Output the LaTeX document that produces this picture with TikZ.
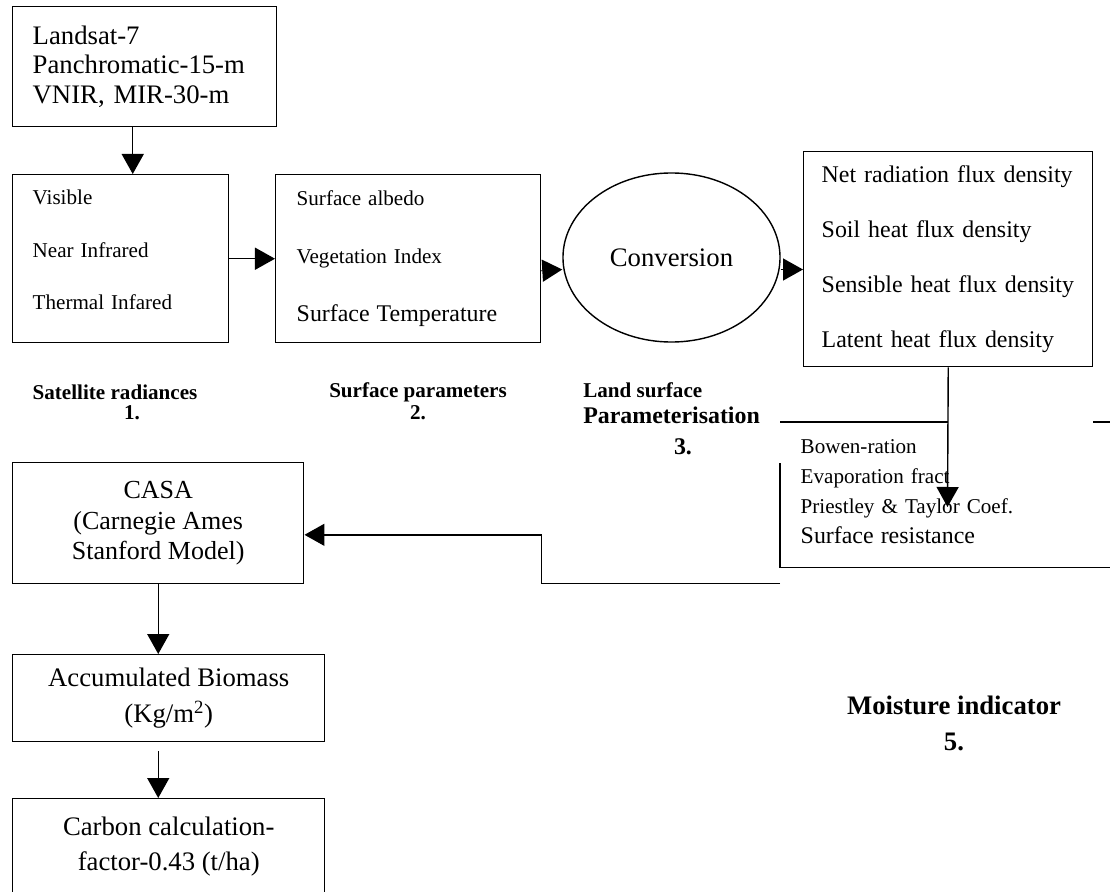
\documentclass[tikz,border=0pt]{standalone}
\usepackage{fontspec}
\setmainfont{Liberation Serif}
\usepackage{tikz}
\usetikzlibrary{shapes,arrows.meta}
\tikzstyle{arrow} = [line width=1pt,-{Triangle[length=0.5cm,width=0.55cm]}]
\tikzstyle{block} = [
    rectangle, draw=black, line width=1pt, anchor=north west, inner ysep=0pt]
\tikzstyle{listbox} = [block, align=left, inner xsep=0.5cm]
\tikzstyle{textbox} = [block, align=center]
\tikzstyle{caption} = [font=\fontsize{15}{18}\selectfont\bfseries, inner sep=0pt]
\tikzstyle{bigcaption} = [font=\fontsize{19}{22}\selectfont\bfseries, inner sep=0pt]

\begin{document}
\begin{tikzpicture}[x=0.025cm, y=-0.025cm]
\clip (0,0) rectangle (1110,892);

\node (landsat) [listbox, minimum width=6.6cm, minimum height=3cm, text width=5.6cm,
    font=\fontsize{19}{21}\selectfont] at (12,6) {
    Landsat-7\\
    Panchromatic-15-m\\
    VNIR, MIR-30-m
};

\node (radiances) [listbox, minimum width=5.4cm, minimum height=4.2cm, text width=4.4cm,
    text depth=3.07cm, font=\fontsize{15}{37.3}\selectfont] at (12,174) {
    Visible\\
    Near Infrared\\
    Thermal Infared
};

\node (params) [listbox, inner xsep=0.525cm, minimum width=6.625cm, minimum height=4.2cm,
    text width=5.575cm, font=\fontsize{15}{41}\selectfont] at (275,174) {
    Surface albedo\\
    Vegetation Index\\
    {\fontsize{17}{41}\selectfont Surface Temperature}
};

\node (conv) [ellipse, draw=black, line width=1pt, minimum width=5.425cm, minimum height=4.225cm,
    inner sep=0pt, font=\fontsize{19}{21}\selectfont] at (671.5,257.5) {Conversion};

\node (fluxes) [listbox, inner xsep=0.45cm, minimum width=7.225cm, minimum height=5.375cm,
    text width=6.325cm, font=\fontsize{17}{39}\selectfont] at (803,151) {
    Net radiation flux density\\
    Soil heat flux density\\
    Sensible heat flux density\\
    Latent heat flux density
};

\node (indicators) [listbox, draw=none, minimum width=8.5cm, minimum height=3.6cm, text width=7.5cm,
    text depth=2.4cm, font=\fontsize{15}{21.3}\selectfont] at (780,422) {
    Bowen-ration\\
    Evaporation fract\\
    Priestley \& Taylor Coef.\\
    {\fontsize{17}{21.3}\selectfont Surface resistance}
};

\node (casa) [textbox, minimum width=7.275cm, minimum height=3.025cm,
    font=\fontsize{18.5}{21.7}\selectfont] at (12,462) {
    CASA\\
    (Carnegie Ames\\
    Stanford Model)
};

\node (biomass) [textbox, minimum width=7.8cm, minimum height=2.175cm,
    font=\fontsize{19}{25.6}\selectfont] at (12,654) {
    Accumulated Biomass\\
    (Kg/m\textsuperscript{2})
};

\node (carbon) [textbox, minimum width=7.8cm, minimum height=2.4cm,
    font=\fontsize{19}{25}\selectfont] at (12,798) {
    Carbon calculation-\\
    factor-0.43 (t/ha)
};

% stage captions
\node (sat-title) [caption] at (115,392) {Satellite radiances};
\node (sat-num) [caption] at (132,413) {1.};
\node (par-title) [caption] at (418,392) {Surface parameters};
\node (par-num) [caption] at (418,413) {2.};
\node (land-title) [caption, anchor=west] at (583,390) {Land surface};
\node (land-title2) [caption, anchor=west, font=\fontsize{17}{20}\selectfont\bfseries] at (583,415) {Parameterisation};
\node (land-num) [caption, font=\fontsize{17}{20}\selectfont\bfseries] at (683,447) {3.};
\node (moist-title) [bigcaption] at (954,705) {Moisture indicator};
\node (moist-num) [bigcaption] at (954,742) {5.};

% broken frame of the moisture box
\draw [line width=1pt] (indicators.north west) -- (fluxes.south |- indicators.north);
\draw [line width=1pt] (fluxes.south east |- indicators.north) -- (indicators.north east);
\draw [line width=1pt] ([yshift=-1.025cm]indicators.north west) -- (indicators.south west) -- (indicators.south east);

\coordinate (moist-in) at (947.5,507);
\coordinate (indicators-out) at ([yshift=-0.4cm]indicators.south west);

\draw [arrow] ([xshift=-0.3cm]landsat.south) -- ([xshift=-0.3cm]landsat.south |- radiances.north);
\draw [arrow] (radiances.east) -- (radiances.east -| params.west);
\draw [arrow] ([yshift=-0.3cm]params.east) -- ([yshift=-0.3cm]conv.west);
\draw [arrow] ([yshift=-0.3cm]conv.east) -- ([yshift=-0.3cm]conv.east -| fluxes.west);
\draw [arrow] (fluxes.south) -- (moist-in);
\draw [arrow] (indicators-out) -- (indicators-out -| params.east) |- ([yshift=-0.29cm]casa.east);
\draw [arrow] (casa.south) -- (casa.south |- biomass.north);
\draw [arrow] ([yshift=-0.225cm]biomass.south -| casa.south) -- (casa.south |- carbon.north);
\end{tikzpicture}
\end{document}
